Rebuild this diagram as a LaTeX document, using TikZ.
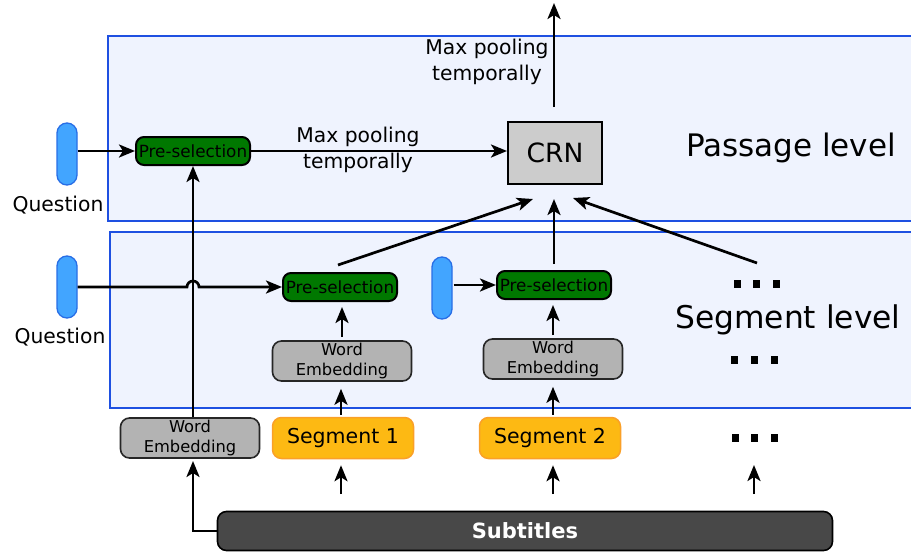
\documentclass[tikz,border=0pt]{standalone}
\usepackage{fontspec}
\setmainfont{DejaVu Sans}
\usetikzlibrary{arrows.meta,calc}
\definecolor{lvlfill}{RGB}{239,243,254}
\definecolor{lvlline}{RGB}{30,80,225}
\definecolor{qfill}{RGB}{66,165,255}
\definecolor{qline}{RGB}{40,110,230}
\definecolor{pgreen}{RGB}{0,120,0}
\definecolor{wgrey}{RGB}{179,179,179}
\definecolor{segfill}{RGB}{253,185,19}
\definecolor{segline}{RGB}{250,160,40}
\definecolor{crngrey}{RGB}{204,204,204}
\definecolor{subfill}{RGB}{72,72,72}
\begin{document}
\begin{tikzpicture}[x=1pt,y=-1pt,
  arr/.style={line width=2.7pt,-{Stealth[length=16pt,width=13pt,inset=4pt]}},
  level/.style={draw=lvlline,line width=2.2pt,fill=lvlfill},
  qcap/.style={draw=qline,line width=1.3pt,fill=qfill,rounded corners=10pt,
    minimum width=20pt,minimum height=62pt,inner sep=0pt},
  presel/.style={draw=black,line width=2pt,fill=pgreen,rounded corners=8pt,
    minimum width=114pt,minimum height=28pt,inner sep=0pt,
    font=\fontsize{16.8}{18}\selectfont},
  wemb/.style={draw=black!85,line width=1.6pt,fill=wgrey,rounded corners=9pt,
    minimum width=139pt,minimum height=40pt,inner sep=0pt,align=center,
    font=\fontsize{16.3}{20}\selectfont},
  segbox/.style={draw=segline,line width=1.5pt,fill=segfill,rounded corners=9pt,
    minimum width=141pt,minimum height=41pt,inner sep=0pt,
    font=\fontsize{20.5}{24}\selectfont},
  lbl/.style={align=center,inner sep=0pt,font=\fontsize{20.3}{26}\selectfont},
  dot/.style={fill=black}
]
\useasboundingbox (0,0) rectangle (911,557);

% level frames
\draw[level] (108,36) rectangle (916,221);
\draw[level] (110,232) rectangle (916,408);

% passage level
\node[qcap] (q1) at (67,154) {};
\node[lbl] (ql1) at (58,205) {Question};
\node[presel] (ps1) at (193,151) {Pre-selection};
\node[draw=black,line width=2pt,fill=crngrey,minimum width=94pt,minimum height=62pt,
  inner sep=0pt,font=\fontsize{26.5}{30}\selectfont] (crn) at (555,153) {CRN};
\node[lbl] (mp1) at (358,150) {Max pooling\\temporally};
\node[lbl] (mp2) at (487,62) {Max pooling\\temporally};
\node[inner sep=0pt,font=\fontsize{31}{34}\selectfont] (plev) at (791,148) {Passage level};
\coordinate (out) at (554,3);

\draw[arr] (q1.east |- ps1.west) -- (ps1.west);
\draw[arr] (ps1.east) -- (ps1.east -| crn.west);
\draw[arr,shorten <=14pt] (crn.north -| out) -- (out);

% segment level
\node[qcap] (q2) at (67,287) {};
\node[lbl] (ql2) at (60,337) {Question};
\node[presel] (ps2) at (340,287) {Pre-selection};
\node[qcap] (q3) at (442,288) {};
\node[presel] (ps3) at (554,285) {Pre-selection};
\node[wemb] (we1) at (342,361) {Word\\Embedding};
\node[wemb] (we2) at (553,359) {Word\\Embedding};
\node[inner sep=0pt,font=\fontsize{31.3}{34}\selectfont] (slev) at (788,320) {Segment level};

% ellipsis marks
\foreach \cx in {737,756.5,776.5} \fill[dot] (\cx-3.5,280) rectangle (\cx+3.5,288);
\foreach \cx in {734,754,774} \fill[dot] (\cx-3.5,356) rectangle (\cx+3.5,364);
\foreach \cx in {735,754.5,774} \fill[dot] (\cx-3.5,434) rectangle (\cx+3.5,442);

\coordinate (cin1) at (533,199);
\coordinate (cin2) at (554,199);
\coordinate (cin3) at (573,198);
\coordinate (dsrc) at (757,263);

\draw[arr] (q2.east) -- (187,287) arc[start angle=180,end angle=0,radius=6pt] -- (ps2.west);
\draw[arr] ([xshift=1pt]q3.east |- ps3.west) -- (ps3.west);
\draw[arr] ([xshift=-2pt,yshift=7pt]ps2.north) -- (cin1);
\draw[arr] ([yshift=6pt]ps3.north) -- (cin2);
\draw[arr] (dsrc) -- (cin3);
\draw[arr,shorten <=3pt,shorten >=5pt] (we1.north) -- (we1.north |- ps2.south);
\draw[arr,shorten <=3pt,shorten >=5pt] (we2.north) -- (we2.north |- ps3.south);

% input row
\node[wemb] (we0) at (190,438) {Word\\Embedding};
\node[segbox] (seg1) at (343,438) {Segment 1};
\node[segbox] (seg2) at (550,438) {Segment 2};
\node[draw=black,line width=1.6pt,fill=subfill,rounded corners=9pt,minimum width=615pt,
  minimum height=39pt,inner sep=0pt,text=white,font=\fontsize{21}{24}\selectfont\bfseries]
  (sub) at (525,531) {Subtitles};

\coordinate (we0in) at (193,461);
\coordinate (s1src) at (341,494);
\coordinate (s2src) at (553,494);
\coordinate (s3src) at (754,494);

\draw[arr] (we0.north -| ps1.south) -- (ps1.south);
\draw[arr] (sub.west) -| (we0in);
\draw[arr,shorten <=2pt,shorten >=7pt] (seg1.north -| s1src) -- (s1src |- we1.south);
\draw[arr,shorten <=2pt,shorten >=7pt] (seg2.north -| s2src) -- (s2src |- we2.south);
\draw[arr,shorten >=6pt] (s1src) -- (s1src |- seg1.south);
\draw[arr,shorten >=6pt] (s2src) -- (s2src |- seg2.south);
\draw[arr] (s3src) -- (754,465);
\end{tikzpicture}
\end{document}
